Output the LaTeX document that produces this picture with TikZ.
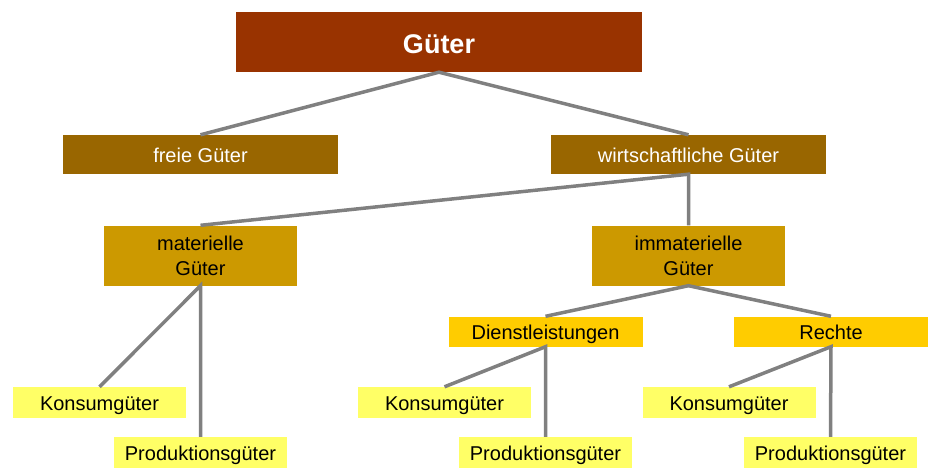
\documentclass[tikz,border=0pt]{standalone}
\usepackage{fontspec}
\setmainfont{Liberation Sans}
\definecolor{cTop}{HTML}{993300}
\definecolor{cLvl1}{HTML}{996600}
\definecolor{cLvl2}{HTML}{CC9900}
\definecolor{cLvl3}{HTML}{FFCC00}
\definecolor{cLvl4}{HTML}{FFFF66}
\definecolor{cLine}{HTML}{808080}
\begin{document}
\begin{tikzpicture}[x=1pt,y=-1pt,
  box/.style={rectangle, draw=none, inner sep=0pt, align=center,
    font=\fontsize{20}{25}\selectfont},
  oneline/.style={text height=16pt, text depth=0pt},
  topbox/.style={box, fill=cTop, text=white, minimum width=406pt, minimum height=60pt,
    font=\fontsize{27}{30}\selectfont\bfseries, text height=22pt, text depth=0pt},
  lvlone/.style={box, oneline, fill=cLvl1, text=white, minimum width=275pt, minimum height=39pt},
  lvltwo/.style={box, fill=cLvl2, text=black, minimum width=193pt, minimum height=60pt},
  lvlthree/.style={box, oneline, fill=cLvl3, text=black, minimum width=194pt, minimum height=30pt},
  lvlfour/.style={box, oneline, fill=cLvl4, text=black, minimum width=173pt, minimum height=31pt},
  conn/.style={draw=cLine, line width=3.5pt}]
\useasboundingbox (0,0) rectangle (930,467);
\node[topbox] (g) at (439,42) {Güter};
\node[lvlone] (fg) at (200.5,154.5) {freie Güter};
\node[lvlone] (wg) at (688.5,154.5) {wirtschaftliche Güter};
\node[lvltwo] (mg) at (200.5,255.5) {materielle\\Güter};
\node[lvltwo] (ig) at (688.5,255.5) {immaterielle\\Güter};
\node[lvlthree] (dl) at (545.5,331.5) {Dienstleistungen};
\node[lvlthree] (re) at (831,331.5) {Rechte};
\node[lvlfour] (k1) at (99.5,402.5) {Konsumgüter};
\node[lvlfour] (p1) at (200.5,452.5) {Produktionsgüter};
\node[lvlfour] (k2) at (444.5,402.5) {Konsumgüter};
\node[lvlfour] (p2) at (545.5,452.5) {Produktionsgüter};
\node[lvlfour] (k3) at (729,402.5) {Konsumgüter};
\node[lvlfour] (p3) at (830.5,452.5) {Produktionsgüter};
\draw[conn] (fg.north) -- (g.south) -- (wg.north);
\draw[conn] (mg.north) -- (wg.south) -- (ig.north);
\draw[conn] (k1.north) -- (mg.south) -- (p1.north);
\draw[conn] (dl.north) -- (ig.south) -- (re.north);
\draw[conn] (k2.north) -- (dl.south) -- (p2.north);
\draw[conn] (k3.north) -- (re.south) -- (p3.north);
\end{tikzpicture}
\end{document}
